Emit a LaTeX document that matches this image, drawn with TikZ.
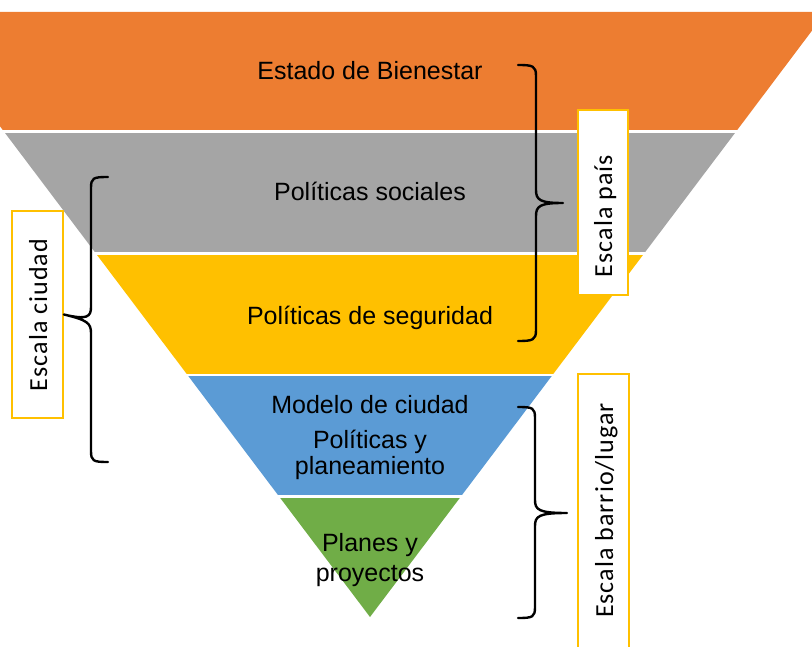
\documentclass[tikz,border=0pt]{standalone}
\usepackage{fontspec}
\setmainfont{Liberation Sans}
\newfontfamily\labelfont[LetterSpace=4]{Carlito}
\definecolor{cOrange}{HTML}{ED7D31}
\definecolor{cGray}{HTML}{A5A5A5}
\definecolor{cYellow}{HTML}{FFC000}
\definecolor{cBlue}{HTML}{5B9BD5}
\definecolor{cGreen}{HTML}{70AD47}
\begin{document}
\begin{tikzpicture}[x=1pt,y=-1pt,
  bandtext/.style={font=\fontsize{25}{25}\selectfont, text=black, inner sep=0pt, anchor=base},
  scalebox/.style={draw=cYellow, line width=1.8pt, fill=white, inner sep=0pt},
  scaletext/.style={font=\labelfont\fontsize{26}{30}\selectfont, rotate=90, inner sep=0pt, anchor=base},
  bracepath/.style={draw=black, line width=2.4pt, line cap=round, line join=round}]
\useasboundingbox (0,0) rectangle (812,647);
\begin{scope}
\clip (0,0) rectangle (812,647);
\fill[cOrange] (-86,12) -- (826,12) -- (736.1,131.5) -- (3.9,131.5) -- cycle;
\fill[cGray] (3.9,131.5) -- (736.1,131.5) -- (644.1,253.5) -- (95.9,253.5) -- cycle;
\fill[cYellow] (95.9,253.5) -- (644.1,253.5) -- (552.5,375) -- (187.5,375) -- cycle;
\fill[cBlue] (187.5,375) -- (552.5,375) -- (460.9,496.5) -- (279.1,496.5) -- cycle;
\fill[cGreen] (279.1,496.5) -- (460.9,496.5) -- (370,617) -- cycle;
\draw[white, line width=2.6pt] (0,131.5) -- (812,131.5);
\draw[white, line width=2.6pt] (0,253.5) -- (812,253.5);
\draw[white, line width=2.6pt] (0,375) -- (812,375);
\draw[white, line width=2.6pt] (0,496.5) -- (812,496.5);
\end{scope}

\node[bandtext] (t1) at (370,80) {Estado de Bienestar};
\node[bandtext] (t2) at (370,201) {Políticas sociales};
\node[bandtext] (t3) at (370,324) {Políticas de seguridad};
\node[bandtext] (t4) at (370,413) {Modelo de ciudad};
\node[bandtext] (t5a) at (370,448) {Políticas y};
\node[bandtext] (t5b) at (370,474) {planeamiento};
\node[bandtext] (t6a) at (370,551) {Planes y};
\node[bandtext] (t6b) at (370,581) {proyectos};

% label boxes
\node[scalebox, minimum width=50pt, minimum height=185pt] (bpais) at (603,202.5) {};
\node[scaletext] (lpais) at (612,216) {Escala país};
\node[scalebox, minimum width=51pt, minimum height=207pt] (bciudad) at (37.5,314.5) {};
\node[scaletext] (lciudad) at (47,315) {Escala ciudad};
\node[scalebox, minimum width=51pt, minimum height=300pt, anchor=north] (bbarrio) at (603.5,373) {};
\node[scaletext] (lbarrio) at (613,510.5) {Escala barrio/lugar};

% braces
\coordinate (b1tip) at (563,203);
\draw[bracepath] (518,65) .. controls (533,65) and (536,66) .. (536,76) -- (536,190)
  .. controls (536,200) and (540,203) .. (b1tip)
  (b1tip) .. controls (540,203) and (536,206) .. (536,216) -- (536,330)
  .. controls (536,340) and (533,341) .. (518,341);
\coordinate (b2tip) at (bciudad.east);
\draw[bracepath] (108,177) .. controls (93,177) and (91,178) .. (91,188) -- (91,307)
  .. controls (91,317) and (87,320) .. (b2tip)
  (b2tip) .. controls (87,320) and (91,323) .. (91,333) -- (91,451)
  .. controls (91,461) and (93,462) .. (108,462);
\coordinate (b3tip) at (567,513);
\draw[bracepath] (518,407) .. controls (533,407) and (535,408) .. (535,418) -- (535,500)
  .. controls (535,510) and (539,513) .. (b3tip)
  (b3tip) .. controls (539,513) and (535,516) .. (535,526) -- (535,607)
  .. controls (535,617) and (533,618) .. (518,618);
\end{tikzpicture}
\end{document}
